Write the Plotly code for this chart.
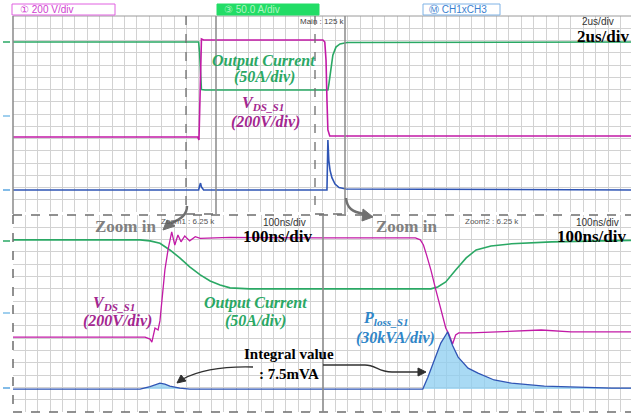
import plotly.graph_objects as go

W, H = 631, 415

# ---------------- data (time, screen divisions) ----------------
# Main window, 2 us/div
top_green_t = [0, 5.99, 6.02, 6.08, 6.2, 10.16, 10.19, 10.26, 10.32, 10.42, 10.55, 10.78, 20]
top_green_v = [2.94, 2.94, 2.5, 1.0, 0.98, 0.98, 1.2, 1.8, 2.4, 2.73, 2.86, 2.92, 2.94]
top_pink_t = [0, 5.96, 6.0, 6.04, 6.08, 6.15, 10.0, 10.06, 10.1, 10.13, 10.16, 10.22, 20]
top_pink_v = [-0.94, -0.94, -1.06, 1.5, 3.06, 3.02, 3.02, 2.94, 2.2, 0.57, -0.65, -0.90, -0.90]
top_blue_t = [0, 5.99, 6.02, 6.05, 6.08, 6.15, 10.13, 10.16, 10.19, 10.23, 10.29, 10.39, 10.52, 10.74, 20]
top_blue_v = [-3.10, -3.10, -2.94, -2.82, -2.98, -3.10, -3.10, -1.06, -1.9, -2.3, -2.6, -2.86, -3.0, -3.06, -3.10]

# Zoom 1, 100 ns/div
z1_green_t = [0, 205, 221, 237, 253, 269, 285, 302, 318, 334, 350, 382, 500]
z1_green_v = [2.99, 2.99, 2.95, 2.85, 2.58, 2.26, 1.89, 1.57, 1.32, 1.16, 1.04, 1.0, 1.0]
z1_pink_t = [0, 213, 221, 224, 229, 234, 237, 240, 245, 250, 253, 256, 261, 266, 271, 277, 285, 294, 302, 350, 500]
z1_pink_v = [-0.96, -0.96, -1.04, -1.16, -0.59, -0.67, -0.3, 0.55, 1.77, 2.58, 2.99, 3.31, 2.78, 3.19,
             2.91, 3.15, 2.95, 3.12, 3.05, 3.09, 3.07]
z1_blue_t = [0, 205, 221, 237, 245, 253, 269, 285, 500]
z1_blue_v = [-3.07, -3.07, -2.97, -2.83, -2.87, -2.95, -3.03, -3.07, -3.07]

# Zoom 2, 100 ns/div
z2_pink_t = [0, 149, 157, 162, 167, 174, 182, 190, 198, 203, 206, 209, 214, 219, 239, 287, 352, 400, 500]
z2_pink_v = [3.07, 3.07, 2.99, 2.78, 2.38, 1.77, 0.96, 0.14, -0.59, -0.83, -1.08, -1.24, -0.87, -0.79,
             -0.79, -0.75, -0.67, -0.75, -0.75]
z2_green_t = [0, 174, 185, 198, 214, 231, 247, 271, 304, 369, 450, 500]
z2_green_v = [1.0, 1.0, 1.08, 1.28, 1.77, 2.26, 2.58, 2.74, 2.83, 2.91, 2.95, 2.97]
z2_blue_t = [0, 149, 161, 169, 179, 190, 201, 209, 218, 234, 250, 276, 304, 357, 466, 500]
z2_blue_v = [-3.07, -3.07, -3.07, -2.6, -1.9, -1.2, -0.75, -1.3, -1.77, -2.22, -2.42, -2.70, -2.83,
             -2.95, -3.03, -3.03]
blue_ground = -3.07

# ---------------- styling ----------------
GREEN = "#2aa864"
PINK = "#c21aa6"
PINK_TXT = "#a3268f"
BLUE = "#2f55b5"
BLUE_TXT = "#2f86c8"
FILL = "rgba(140,205,240,0.75)"
GRID = "#d2d2d2"
SERIF = "Liberation Serif"
SANS = "Liberation Sans"


def X(p):
    return p / W


def Y(p):
    return 1 - p / H


fig = go.Figure()


def line(x, y, color, xa, ya, width=1.6):
    fig.add_trace(go.Scatter(x=x, y=y, mode="lines", line=dict(color=color, width=width),
                             xaxis=xa, yaxis=ya, hoverinfo="skip", showlegend=False))


def filled(x, y, xa, ya, span):
    fig.add_trace(go.Scatter(x=span, y=[blue_ground] * len(span), mode="lines",
                             line=dict(width=0), xaxis=xa, yaxis=ya, showlegend=False,
                             hoverinfo="skip"))
    fig.add_trace(go.Scatter(x=x, y=y, mode="lines", line=dict(width=0), fill="tonexty",
                             fillcolor=FILL, xaxis=xa, yaxis=ya, showlegend=False,
                             hoverinfo="skip"))


# top
line(top_green_t, top_green_v, GREEN, "x", "y")
line(top_pink_t, top_pink_v, PINK, "x", "y")
line(top_blue_t, top_blue_v, BLUE, "x", "y")
# zoom 1
filled(z1_blue_t, z1_blue_v, "x2", "y2", [0, 500])
line(z1_green_t, z1_green_v, GREEN, "x2", "y2")
line(z1_pink_t, z1_pink_v, PINK, "x2", "y2", 1.3)
line(z1_blue_t, z1_blue_v, BLUE, "x2", "y2", 1.3)
# zoom 2
filled(z2_blue_t, z2_blue_v, "x3", "y3", [0, 500])
line(z2_green_t, z2_green_v, GREEN, "x3", "y3")
line(z2_pink_t, z2_pink_v, PINK, "x3", "y3", 1.3)
line(z2_blue_t, z2_blue_v, BLUE, "x3", "y3", 1.3)


def xax(dom, rng, dt, anchor):
    # grid every 1/5 division
    return dict(domain=dom, range=rng, dtick=dt, tick0=0, showgrid=True, gridcolor=GRID,
                gridwidth=1, showticklabels=False, ticks="", zeroline=False, showline=False,
                anchor=anchor, fixedrange=True)


def yax(dom, anchor):
    # grid every 1/2 division
    return dict(domain=dom, range=[-4, 4], dtick=0.5, tick0=0, showgrid=True, gridcolor=GRID,
                gridwidth=1, showticklabels=False, ticks="", zeroline=False, showline=False,
                anchor=anchor, fixedrange=True)


top_dom = [Y(212), Y(16)]
bot_dom = [Y(412), Y(215)]

fig.update_layout(
    width=W, height=H, margin=dict(l=0, r=0, t=0, b=0, pad=0),
    paper_bgcolor="white", plot_bgcolor="rgba(0,0,0,0)",
    xaxis=xax([X(13), 1], [0, 19.94], 0.4, "y"),
    yaxis=yax(top_dom, "x"),
    xaxis2=xax([X(13), X(323)], [0, 500], 20, "y2"),
    yaxis2=yax(bot_dom, "x2"),
    xaxis3=xax([X(323), 1], [0, 496.8], 20, "y3"),
    yaxis3=yax(bot_dom, "x3"),
)

shapes = []


def seg(x0, y0, x1, y1, color="#808080", w=1.3, dash="solid"):
    shapes.append(dict(type="line", xref="paper", yref="paper", x0=X(x0), y0=Y(y0), x1=X(x1),
                       y1=Y(y1), line=dict(color=color, width=w, dash=dash)))


def path(d, color, w, fill=None):
    s = dict(type="path", xref="paper", yref="paper", path=d, line=dict(color=color, width=w))
    if fill:
        s["fillcolor"] = fill
    shapes.append(s)


def P(x, y):
    return f"{X(x):.5f},{Y(y):.5f}"


# panel borders
seg(13, 16, 631, 16, "#9a9a9a", 1)
seg(13, 16, 13, 214, "#8a8a8a", 1.5)
seg(13, 215, 631, 215, "#6e6e6e", 1.5, "dash")
seg(13, 215, 13, 412, "#6e6e6e", 1.5, "dash")
seg(13, 412, 631, 412, "#6e6e6e", 1.5, "dash")
seg(323, 215, 323, 412, "#8a8a8a", 1.6)
# zoom boxes on the main window
seg(186, 16, 186, 214, "#6e6e6e", 1.3, "dash")
seg(216, 16, 216, 214, "#8a8a8a", 1.5)
seg(186, 214, 216, 214, "#6e6e6e", 1.3, "dash")
seg(315, 16, 315, 214, "#6e6e6e", 1.3, "dash")
seg(345, 16, 345, 214, "#8a8a8a", 1.5)
seg(315, 214, 345, 214, "#6e6e6e", 1.3, "dash")

# zoom-in arrows
path(f"M{P(187,206)} C{P(187,215)} {P(181,219)} {P(171,223)}", "#707070", 2.5)
path(f"M{P(163,230)} L{P(167,220)} L{P(175,226)} Z", "#707070", 1, "#707070")
path(f"M{P(346,198)} C{P(347,208)} {P(352,212)} {P(364,214)}", "#707070", 2.5)
path(f"M{P(373,217)} L{P(363,209)} L{P(362,221)} Z", "#707070", 1, "#707070")
# integral arrows
path(f"M{P(253,367)} C{P(215,366)} {P(196,372)} {P(183,379)}", "#303030", 1.3)
path(f"M{P(177,383)} L{P(181,375)} L{P(186,381)} Z", "#303030", 1, "#303030")
path(f"M{P(323,365)} L{P(365,365)} C{P(376,365)} {P(378,372)} {P(392,372)} L{P(419,372)}",
     "#303030", 1.3)
path(f"M{P(426,372)} L{P(418,368)} L{P(418,376)} Z", "#303030", 1, "#303030")

# channel header boxes
shapes.append(dict(type="rect", xref="paper", yref="paper", x0=X(12), x1=X(115), y0=Y(15), y1=Y(4),
                   line=dict(color="#e060e0", width=1), fillcolor="white"))
shapes.append(dict(type="rect", xref="paper", yref="paper", x0=X(217), x1=X(319), y0=Y(15), y1=Y(4),
                   line=dict(color="#22dd66", width=1), fillcolor="#22dd66"))
shapes.append(dict(type="rect", xref="paper", yref="paper", x0=X(423), x1=X(500), y0=Y(15), y1=Y(4),
                   line=dict(color="#7fb2e5", width=1), fillcolor="white"))

# ground markers
for yy, c in [(42, GREEN), (116, "#7fbfe8"), (190, "#5aa6e0"), (241, GREEN), (313, "#7fbfe8"),
              (388, "#5aa6e0")]:
    seg(3, yy, 10, yy, c, 1.5)

fig.update_layout(shapes=shapes)

ann = []


def T(x, y, text, size, color, family=SERIF, xanchor="center"):
    ann.append(dict(x=X(x), y=Y(y), xref="paper", yref="paper", text=text, showarrow=False,
                    xanchor=xanchor, yanchor="middle",
                    font=dict(size=size, color=color, family=family)))


T(18, 9.5, "① 200 V/div", 10, "#d040d0", SANS, "left")
T(222, 9.5, "③ 50.0 A/div", 10, "#b0f5c0", SANS, "left")
T(427, 9.5, "Ⓜ CH1xCH3", 10, "#3a7fd0", SANS, "left")
T(322, 22, "Main : 125 k", 8, "#444444", SANS)
T(598, 22, "2us/div", 10, "#333333", SANS)
T(603, 37, "<b>2us/div</b>", 17, "black")

T(263, 61, "<b><i>Output Current</i></b>", 16, GREEN)
T(264, 77, "<b><i>(50A/div)</i></b>", 16, GREEN)
T(263, 104, "<b><i>V<sub>DS_S1</sub></i></b>", 16, PINK_TXT)
T(265, 122, "<b><i>(200V/div)</i></b>", 16, PINK_TXT)

T(125, 226, "<b>Zoom in</b>", 17, "#808080")
T(406, 226, "<b>Zoom in</b>", 17, "#808080")
T(188, 221, "Zoom1 : 6.25 k", 8, "#555555", SANS)
T(492, 221, "Zoom2 : 6.25 k", 8, "#555555", SANS)
T(284, 222, "100ns/div", 10, "#333333", SANS)
T(597, 222, "100ns/div", 10, "#333333", SANS)
T(277, 236, "<b>100ns/div</b>", 17, "black")
T(591, 236, "<b>100ns/div</b>", 17, "black")

T(114, 303, "<b><i>V<sub>DS_S1</sub></i></b>", 16, PINK_TXT)
T(117, 321, "<b><i>(200V/div)</i></b>", 16, PINK_TXT)
T(255, 303, "<b><i>Output Current</i></b>", 16, GREEN)
T(255, 321, "<b><i>(50A/div)</i></b>", 16, GREEN)
T(289, 354, "<b>Integral value</b>", 15, "black")
T(289, 374, "<b>: 7.5mVA</b>", 15, "black")
T(386, 318, "<b><i>P<sub>loss_S1</sub></i></b>", 16, BLUE_TXT)
T(395, 338, "<b><i>(30kVA/div)</i></b>", 16, BLUE_TXT)

fig.update_layout(annotations=ann)

fig.write_html(
    "out.html",
    config={"displayModeBar": False},
    post_script="document.body.style.margin='0';document.body.style.overflow='hidden';",
)
